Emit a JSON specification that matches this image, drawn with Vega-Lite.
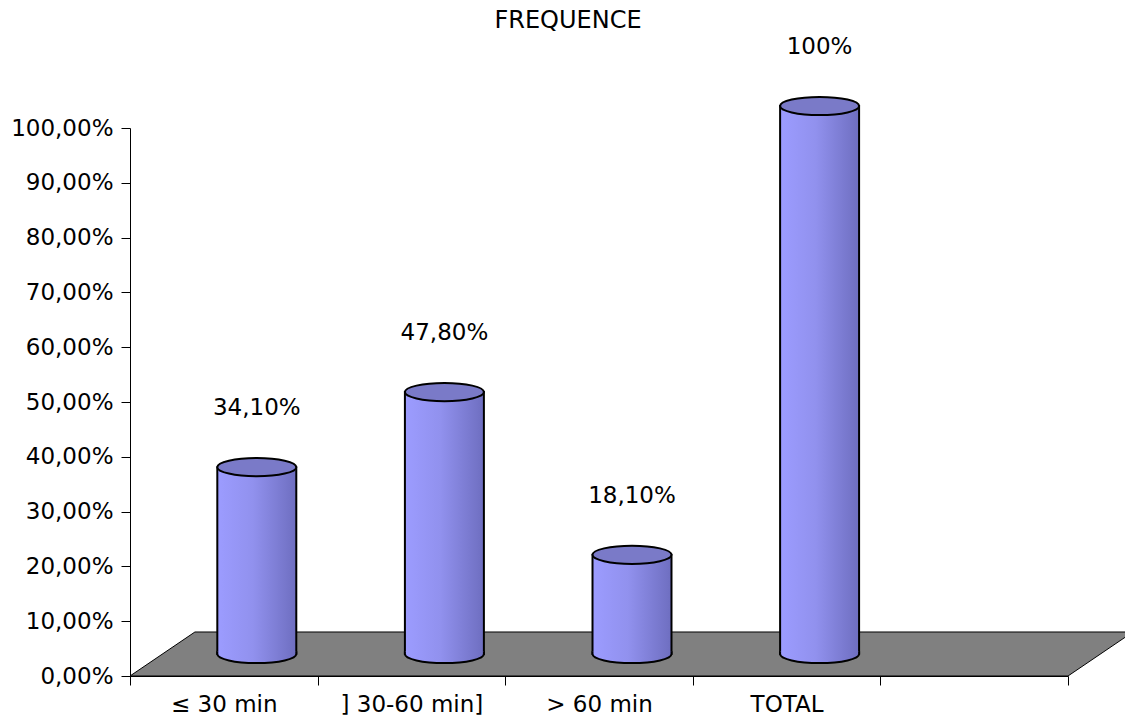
{
  "$schema": "https://vega.github.io/schema/vega-lite/v6.json",
  "width": 938,
  "height": 548,
  "autosize": "none",
  "padding": {"left": 130, "top": 128, "right": 57, "bottom": 43},
  "background": "white",
  "title": {"text": "FREQUENCE", "font": "DejaVu Sans", "fontSize": 24, "fontWeight": "normal", "color": "black", "anchor": "middle", "frame": "group", "dx": -31, "offset": 3},
  "config": {"view": {"stroke": null}, "font": "DejaVu Sans"},
  "datasets": {
    "bars": [
      {"cat": "≤ 30 min", "value": 34.1, "label": "34,10%"},
      {"cat": "] 30-60 min]", "value": 47.8, "label": "47,80%"},
      {"cat": "> 60 min", "value": 18.1, "label": "18,10%"},
      {"cat": "TOTAL", "value": 100, "label": "100%"}
    ],
    "floor": [
      {"u": 0, "value": 0, "bottom": 0},
      {"u": 0.346, "value": 8.03, "bottom": 0},
      {"u": 5, "value": 8.03, "bottom": 0},
      {"u": 5.346, "value": 8.03, "bottom": 8.03}
    ]
  },
  "encoding": {
    "y": {
      "field": "value",
      "type": "quantitative",
      "scale": {"domain": [0, 100], "nice": false},
      "axis": {
        "title": null,
        "values": [0, 10, 20, 30, 40, 50, 60, 70, 80, 90, 100],
        "labelExpr": "replace(format(datum.value/100, '.2%'), '.', ',')",
        "grid": false,
        "domainColor": "black",
        "tickColor": "black",
        "tickSize": 9,
        "labelPadding": 8,
        "labelFont": "DejaVu Sans",
        "labelFontSize": 23,
        "labelColor": "black"
      }
    }
  },
  "layer": [
    {
      "data": {"name": "floor"},
      "mark": {"type": "area", "fill": "#808080", "stroke": "black", "strokeWidth": 1, "clip": false, "opacity": 1},
      "encoding": {
        "x": {"field": "u", "type": "quantitative", "scale": {"domain": [0, 5], "nice": false, "zero": false}, "axis": null},
        "y2": {"field": "bottom"}
      }
    },
    {
      "data": {"name": "bars"},
      "encoding": {
        "x": {
          "field": "cat",
          "type": "nominal",
          "sort": null,
          "scale": {"domain": ["≤ 30 min", "] 30-60 min]", "> 60 min", "TOTAL", " "], "paddingInner": 0, "paddingOuter": 0},
          "axis": {
            "title": null,
            "tickBand": "extent",
            "labelAngle": 0,
            "domainColor": "black",
            "tickColor": "black",
            "tickSize": 9,
            "labelPadding": 8,
            "labelFont": "DejaVu Sans",
            "labelFontSize": 23,
            "labelColor": "black"
          }
        }
      },
      "layer": [
        {
          "mark": {
            "type": "bar",
            "width": {"band": 0.421},
            "xOffset": 33, "x2Offset": 33, "yOffset": -22, "y2Offset": -22,
            "stroke": "black", "strokeWidth": 2, "clip": false,
            "fill": {"gradient": "linear", "x1": 0, "y1": 0, "x2": 1, "y2": 0, "stops": [
              {"offset": 0, "color": "#9C9CFF"},
              {"offset": 0.45, "color": "#9191EE"},
              {"offset": 1, "color": "#6E6EC0"}
            ]}
          },
          "encoding": {}
        },
        {
          "mark": {
            "type": "point", "filled": true, "opacity": 1,
            "shape": "M-1,-0.07L-1,0A1,0.23 0 0 0 1,0L1,-0.07",
            "size": 6241,
            "xOffset": 33, "yOffset": -22,
            "stroke": "black", "strokeWidth": 2, "strokeOpacity": 1,
            "fill": {"gradient": "linear", "x1": 0, "y1": 0, "x2": 1, "y2": 0, "stops": [
              {"offset": 0, "color": "#9C9CFF"},
              {"offset": 0.45, "color": "#9191EE"},
              {"offset": 1, "color": "#6E6EC0"}
            ]}
          },
          "encoding": {"y": {"datum": 0, "type": "quantitative"}}
        },
        {
          "mark": {
            "type": "point", "filled": true, "opacity": 1,
            "shape": "M-1,0A1,0.23 0 1 0 1,0A1,0.23 0 1 0 -1,0Z",
            "size": 6241,
            "xOffset": 33, "yOffset": -22,
            "fill": "#7A7AC8", "stroke": "black", "strokeWidth": 2, "strokeOpacity": 1
          },
          "encoding": {}
        },
        {
          "mark": {"type": "text", "font": "DejaVu Sans", "fontSize": 23, "color": "black", "baseline": "middle", "align": "center", "dx": 33, "dy": -81},
          "encoding": {"text": {"field": "label"}}
        }
      ]
    }
  ],
  "resolve": {"scale": {"x": "independent"}}
}
